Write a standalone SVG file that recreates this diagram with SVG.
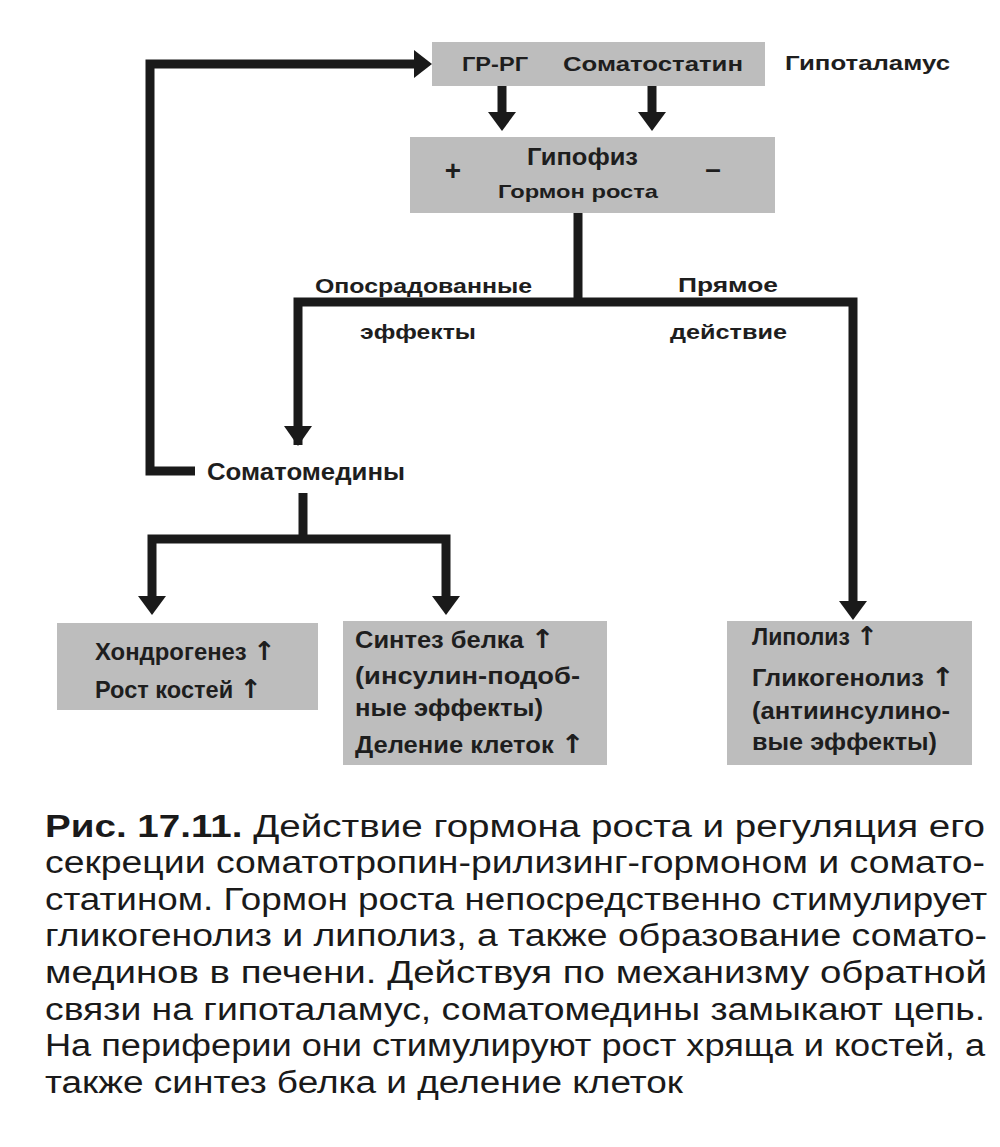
<svg xmlns="http://www.w3.org/2000/svg" width="1000" height="1147" viewBox="0 0 1000 1147">
<defs>
<style>
.bg{fill:#ffffff}
.box{fill:#bdbdbd}
.ln{fill:none;stroke:#1a1a1a;stroke-width:9;stroke-linejoin:miter;stroke-linecap:butt}
.ah{fill:#1a1a1a}
.t{font-family:"Liberation Sans","DejaVu Sans",sans-serif;font-size:23px;font-weight:bold;fill:#1e1e1e}
.s{font-size:20px}
.up{font-family:"DejaVu Sans",sans-serif;font-size:26px;font-weight:bold}
.c{font-family:"Liberation Sans Narrow","Liberation Sans","DejaVu Sans Condensed",sans-serif;font-size:31px;fill:#1a1a1a}
.b{font-weight:bold}
</style>
</defs>
<rect class="bg" x="0" y="0" width="1000" height="1147"/>

<g id="connectors">
  <!-- feedback loop -->
  <polyline class="ln" points="195,471 150,471 150,64 416,64"/>
  <polygon class="ah" points="414,50 432,64 414,78"/>
  <!-- hypothalamus to pituitary -->
  <line class="ln" x1="502" y1="86" x2="502" y2="114"/>
  <polygon class="ah" points="488,112 516,112 502,131"/>
  <line class="ln" x1="652" y1="86" x2="652" y2="114"/>
  <polygon class="ah" points="638,112 666,112 652,131"/>
  <!-- pituitary branches -->
  <line class="ln" x1="578" y1="213" x2="578" y2="302"/>
  <polyline class="ln" points="298,445 298,302 853,302 853,603"/>
  <polygon class="ah" points="284,426 312,426 298,446"/>
  <polygon class="ah" points="839,601 867,601 853,620"/>
  <!-- somatomedins branches -->
  <line class="ln" x1="303" y1="493" x2="303" y2="539"/>
  <polyline class="ln" points="152,598 152,539 446,539 446,598"/>
  <polygon class="ah" points="138,596 166,596 152,615"/>
  <polygon class="ah" points="432,596 460,596 446,615"/>
</g>

<g id="node-hypothalamus">
  <rect class="box" x="432" y="42" width="333" height="44"/>
  <text class="t s" x="462" y="71" textLength="66" lengthAdjust="spacingAndGlyphs">ГР-РГ</text>
  <text class="t s" x="563" y="71" textLength="180" lengthAdjust="spacingAndGlyphs">Соматостатин</text>
</g>
<g id="label-hypothalamus">
  <text class="t s" x="785" y="70" textLength="165" lengthAdjust="spacingAndGlyphs">Гипоталамус</text>
</g>

<g id="node-pituitary">
  <rect class="box" x="410" y="137" width="365" height="76"/>
  <text class="t" x="527" y="165" textLength="111" lengthAdjust="spacingAndGlyphs">Гипофиз</text>
  <text class="t" x="498" y="198" textLength="160" lengthAdjust="spacingAndGlyphs" style="font-size:19px">Гормон роста</text>
  <text class="t" x="453" y="180" text-anchor="middle" style="font-size:28px">+</text>
  <text class="t" x="713" y="178" text-anchor="middle" style="font-size:28px">–</text>
</g>

<g id="label-mediated">
  <text class="t s" x="315" y="293" textLength="217" lengthAdjust="spacingAndGlyphs">Опосрадованные</text>
  <text class="t s" x="360" y="339" textLength="116" lengthAdjust="spacingAndGlyphs">эффекты</text>
</g>
<g id="label-direct">
  <text class="t s" x="678" y="292" textLength="100" lengthAdjust="spacingAndGlyphs">Прямое</text>
  <text class="t s" x="670" y="339" textLength="117" lengthAdjust="spacingAndGlyphs">действие</text>
</g>

<g id="node-somatomedins">
  <text class="t" x="207" y="480" textLength="198" lengthAdjust="spacingAndGlyphs">Соматомедины</text>
</g>

<g id="node-chondrogenesis">
  <rect class="box" x="57" y="623" width="261" height="87"/>
  <text class="t" x="95" y="660" textLength="181" lengthAdjust="spacingAndGlyphs">Хондрогенез <tspan class="up">↑</tspan></text>
  <text class="t" x="95" y="698" textLength="167" lengthAdjust="spacingAndGlyphs">Рост костей <tspan class="up">↑</tspan></text>
</g>

<g id="node-protein">
  <rect class="box" x="343" y="621" width="264" height="144"/>
  <text class="t" x="355" y="648" textLength="200" lengthAdjust="spacingAndGlyphs">Синтез белка <tspan class="up">↑</tspan></text>
  <text class="t" x="355" y="684" textLength="225" lengthAdjust="spacingAndGlyphs">(инсулин-подоб-</text>
  <text class="t" x="355" y="716" textLength="188" lengthAdjust="spacingAndGlyphs">ные эффекты)</text>
  <text class="t" x="355" y="753" textLength="230" lengthAdjust="spacingAndGlyphs">Деление клеток <tspan class="up">↑</tspan></text>
</g>

<g id="node-lipolysis">
  <rect class="box" x="727" y="621" width="245" height="144"/>
  <text class="t" x="752" y="645" textLength="126" lengthAdjust="spacingAndGlyphs">Липолиз <tspan class="up">↑</tspan></text>
  <text class="t" x="752" y="686" textLength="203" lengthAdjust="spacingAndGlyphs">Гликогенолиз <tspan class="up">↑</tspan></text>
  <text class="t" x="752" y="719" textLength="198" lengthAdjust="spacingAndGlyphs">(антиинсулино-</text>
  <text class="t" x="752" y="750" textLength="185" lengthAdjust="spacingAndGlyphs">вые эффекты)</text>
</g>

<g id="caption">
  <text class="c" x="45" y="837" textLength="940" lengthAdjust="spacingAndGlyphs"><tspan class="b">Рис. 17.11.</tspan> Действие гормона роста и регуляция его</text>
  <text class="c" x="45" y="873" textLength="940" lengthAdjust="spacingAndGlyphs">секреции соматотропин-рилизинг-гормоном и сомато-</text>
  <text class="c" x="45" y="910" textLength="942" lengthAdjust="spacingAndGlyphs">статином. Гормон роста непосредственно стимулирует</text>
  <text class="c" x="45" y="946" textLength="942" lengthAdjust="spacingAndGlyphs">гликогенолиз и липолиз, а также образование сомато-</text>
  <text class="c" x="45" y="983" textLength="942" lengthAdjust="spacingAndGlyphs">мединов в печени. Действуя по механизму обратной</text>
  <text class="c" x="45" y="1020" textLength="940" lengthAdjust="spacingAndGlyphs">связи на гипоталамус, соматомедины замыкают цепь.</text>
  <text class="c" x="45" y="1056" textLength="940" lengthAdjust="spacingAndGlyphs">На периферии они стимулируют рост хряща и костей, а</text>
  <text class="c" x="45" y="1093" textLength="638" lengthAdjust="spacingAndGlyphs">также синтез белка и деление клеток</text>
</g>
</svg>
